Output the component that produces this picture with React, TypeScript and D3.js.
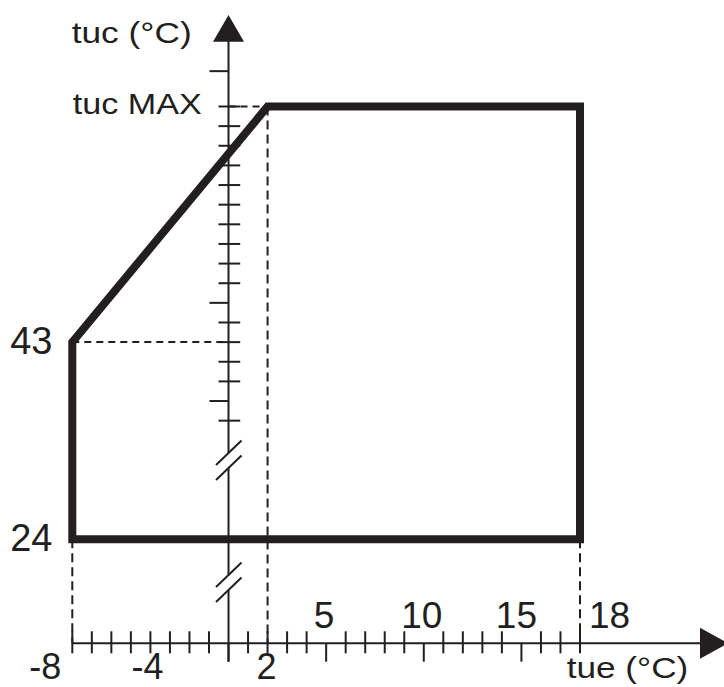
import { useRef, useEffect } from "react";
import * as d3 from "d3";

// operating envelope corners: tue (°C) and tuc (°C)
const envelopeTue = [-8, -8, 2, 18, 18];
const envelopeTuc = [24, 43, 55, 55, 24];

// x axis ticks (tue)
const xMinorTicks = [-8, -7, -6, -5, -4, -3, -2, -1, 1, 2, 3, 4, 6, 7, 8, 9, 11, 12, 13, 14, 16, 17, 18];
const xMajorTicks = [0, 5, 10, 15];
const xLabelsBelow = [-8, -4, 2];
const xLabelsAbove = [5, 10, 15, 18];

// y axis ticks (tuc), upper part above the break
const yMinorTicks = [39, 41, 42, 43, 44, 46, 47, 48, 49, 50, 51, 52, 53, 54, 55];
const yMajorTicks = [40, 45, 56.8];
const yLabels = [24, 43];
const tucMax = 55;

const INK = "#231f20";
const FONT = "'Liberation Sans', Arial, sans-serif";

const App = () => {
  const svgRef = useRef(null);

  useEffect(() => {
    const svg = d3.select(svgRef.current);
    svg.selectAll("*").remove();

    const width = 724;
    const height = 687;
    const axisY = 643.3;

    const x = d3.scaleLinear().domain([-8, 18]).range([72.3, 580]);
    // broken axis: 24 sits below the break, 38..55 keeps a regular step
    const y = d3.scaleLinear().domain([24, 38, 55]).range([539.3, 440.3, 106.5]);
    const x0 = x(0);

    svg.attr("width", width).attr("height", height);
    svg.append("rect").attr("width", width).attr("height", height).attr("fill", "#fff");

    // Dashed guides
    const dashed = svg.append("g")
      .attr("stroke", INK)
      .attr("stroke-width", 2)
      .attr("stroke-dasharray", "9,5")
      .attr("fill", "none");
    dashed.append("line").attr("x1", x(-8)).attr("x2", x(-8)).attr("y1", y(24)).attr("y2", axisY);
    dashed.append("line").attr("x1", x(2)).attr("x2", x(2)).attr("y1", y(tucMax)).attr("y2", axisY);
    dashed.append("line").attr("x1", x(18)).attr("x2", x(18)).attr("y1", y(24)).attr("y2", axisY);
    dashed.append("line").attr("x1", x(-8)).attr("x2", x0).attr("y1", y(43)).attr("y2", y(43))
      .attr("stroke-dasharray", "7,5");
    dashed.append("line").attr("x1", x0).attr("x2", x(2)).attr("y1", y(tucMax)).attr("y2", y(tucMax))
      .attr("stroke-dasharray", "7,5");

    const axes = svg.append("g").attr("stroke", INK).attr("stroke-width", 2).attr("fill", "none");

    // Y axis with two breaks
    const breaks = [[453, 468], [575, 590]];
    const segs = [[41, breaks[0][0]], [breaks[0][1], breaks[1][0]], [breaks[1][1], axisY + 18.4]];
    segs.forEach(([a, b]) => {
      axes.append("line").attr("x1", x0).attr("x2", x0).attr("y1", a).attr("y2", b);
    });
    breaks.forEach((br) => {
      br.forEach((cy) => {
        axes.append("line")
          .attr("x1", x0 - 12.5).attr("y1", cy + 12)
          .attr("x2", x0 + 13).attr("y2", cy - 12.5);
      });
    });
    svg.append("path")
      .attr("d", `M${x0},15 L${x0 - 15.5},41.7 L${x0 + 15.5},41.7 Z`)
      .attr("fill", INK);

    // Y ticks
    yMinorTicks.forEach((v) => {
      axes.append("line").attr("x1", x0 - 10).attr("x2", x0 + 11.7).attr("y1", y(v)).attr("y2", y(v));
    });
    yMajorTicks.forEach((v) => {
      axes.append("line").attr("x1", x0 - 19).attr("x2", x0).attr("y1", y(v)).attr("y2", y(v));
    });

    // X axis
    axes.append("line").attr("x1", x(-8)).attr("x2", 702).attr("y1", axisY).attr("y2", axisY);
    svg.append("path")
      .attr("d", `M700,${axisY - 15.5} L728,${axisY} L700,${axisY + 15.5} Z`)
      .attr("fill", INK);
    xMinorTicks.forEach((v) => {
      axes.append("line").attr("x1", x(v)).attr("x2", x(v)).attr("y1", axisY - 12).attr("y2", axisY + 10);
    });
    xMajorTicks.forEach((v) => {
      axes.append("line").attr("x1", x(v)).attr("x2", x(v)).attr("y1", axisY).attr("y2", axisY + 18.4);
    });

    // Envelope
    const line = d3.line()
      .x((d) => x(d[0]))
      .y((d) => y(d[1]))
      .curve(d3.curveLinearClosed);
    svg.append("path")
      .datum(envelopeTue.map((t, i) => [t, envelopeTuc[i]]))
      .attr("d", line)
      .attr("fill", "none")
      .attr("stroke", INK)
      .attr("stroke-width", 8)
      .attr("stroke-linejoin", "miter");

    // Labels
    const txt = svg.append("g").attr("fill", INK).attr("font-family", FONT);
    const belowNudge = { "-8": -27, "-4": -3, "2": -1 };
    const aboveNudge = { "5": -2, "10": -2, "15": -5, "18": 29.5 };
    xLabelsBelow.forEach((v) => {
      txt.append("text")
        .attr("x", x(v) + belowNudge[String(v)])
        .attr("y", 679)
        .attr("text-anchor", "middle")
        .attr("font-size", 36)
        .text(String(v));
    });
    xLabelsAbove.forEach((v) => {
      txt.append("text")
        .attr("x", x(v) + aboveNudge[String(v)])
        .attr("y", 628.3)
        .attr("text-anchor", "middle")
        .attr("font-size", 37)
        .text(String(v));
    });
    yLabels.forEach((v) => {
      txt.append("text")
        .attr("x", 52.5)
        .attr("y", y(v) + 12)
        .attr("text-anchor", "end")
        .attr("font-size", 38)
        .text(String(v));
    });
    txt.append("text")
      .attr("x", 72.7).attr("y", y(tucMax) + 7)
      .attr("font-size", 29)
      .attr("textLength", 129).attr("lengthAdjust", "spacingAndGlyphs")
      .text("tuc MAX");
    txt.append("text")
      .attr("x", 71.7).attr("y", 43.3)
      .attr("font-size", 29)
      .attr("textLength", 120).attr("lengthAdjust", "spacingAndGlyphs")
      .text("tuc (°C)");
    txt.append("text")
      .attr("x", 566.7).attr("y", 678.3)
      .attr("font-size", 30)
      .attr("textLength", 121.6).attr("lengthAdjust", "spacingAndGlyphs")
      .text("tue (°C)");
  }, []);

  return (
    <svg
      ref={svgRef}
      width="724"
      height="687"
      style={{ position: "absolute", left: 0, top: 0, display: "block" }}
    ></svg>
  );
};

export default App;
